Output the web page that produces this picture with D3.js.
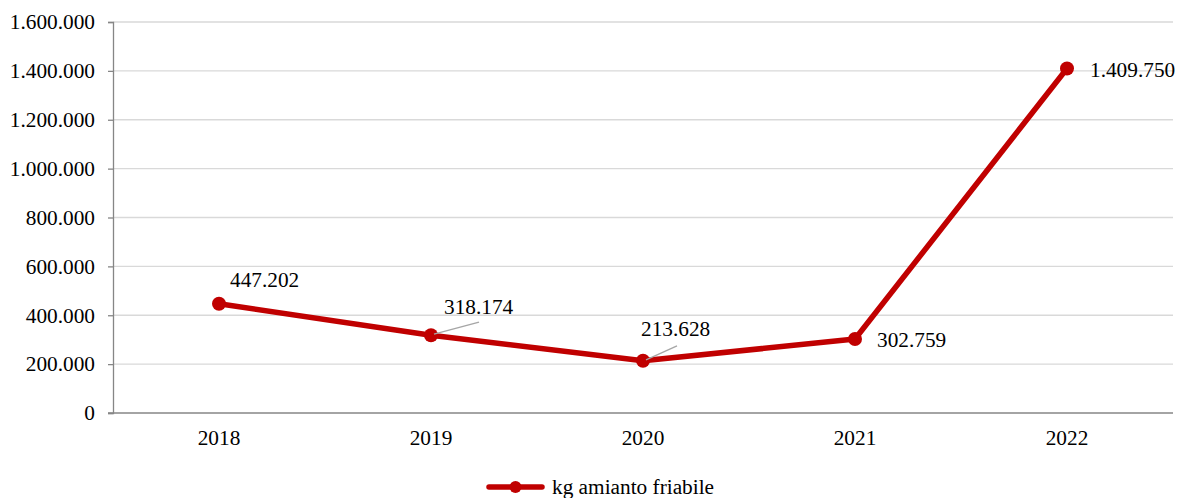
<!DOCTYPE html>
<html><head><meta charset="utf-8">
<script src="https://cdn.jsdelivr.net/npm/d3@7"></script>
<style>body{margin:0;background:#fff}svg{display:block}</style>
</head><body>
<svg id="c" width="1177" height="498"></svg>
<script>
const categories = ["2018","2019","2020","2021","2022"];
const values = [447202, 318174, 213628, 302759, 1409750];
const labels = ["447.202","318.174","213.628","302.759","1.409.750"];
const yTicks = [0,200000,400000,600000,800000,1000000,1200000,1400000,1600000];
const seriesName = "kg amianto friabile";

(function(){
const svg = d3.select("#c");
const mL = 113, mR = 1173, mT = 22, mB = 413;
const FS = "21.3px";
const FF = "Liberation Serif";
const color = "#C00000";
const fmt = v => v.toString().replace(/\B(?=(\d{3})+(?!\d))/g, ".");

const x = d3.scaleBand().domain(categories).range([mL, mR]);
const y = d3.scaleLinear().domain([0,1600000]).range([mB, mT]);

svg.append("g").selectAll("line").data(yTicks.slice(1)).join("line")
  .attr("x1", mL).attr("x2", mR)
  .attr("y1", d => y(d)).attr("y2", d => y(d))
  .attr("stroke", "#d9d9d9").attr("stroke-width", 1.3);

const ya = svg.append("g").attr("transform", `translate(${mL},0)`)
  .call(d3.axisLeft(y).tickValues(yTicks).tickFormat(fmt).tickSize(5).tickPadding(13));
ya.select(".domain").attr("stroke", "#868686").attr("stroke-width", 1.3);
ya.selectAll(".tick line").attr("stroke", "#868686").attr("stroke-width", 1.3);
ya.selectAll("text").style("font-family", FF).style("font-size", FS).attr("fill", "#000");

const xa = svg.append("g").attr("transform", `translate(0,${mB})`)
  .call(d3.axisBottom(x).tickSize(0));
xa.select(".domain").attr("d", `M${mL-5},0H${mR}`).attr("stroke", "#868686").attr("stroke-width", 1.3);
xa.selectAll("text").attr("y", 25).attr("dy", "0.35em").style("font-family", FF).style("font-size", FS).attr("fill", "#000");

const cx = d => x(d) + x.bandwidth()/2;

svg.append("path").datum(values)
  .attr("d", d3.line().x((d,i) => cx(categories[i])).y(d => y(d)))
  .attr("fill", "none").attr("stroke", color).attr("stroke-width", 5.5).attr("stroke-linejoin", "round");

svg.append("g").selectAll("circle").data(values).join("circle")
  .attr("cx", (d,i) => cx(categories[i])).attr("cy", d => y(d)).attr("r", 7).attr("fill", color);

const offs = [
  {dx: 11, dy: -24, leader: false},
  {dx: 13, dy: -29, leader: true, lx: 48, ly: -13},
  {dx: -2, dy: -32, leader: true, lx: 34, ly: -15},
  {dx: 22, dy: 1, leader: false},
  {dx: 23, dy: 1, leader: false}
];
const lab = svg.append("g");
values.forEach((v,i) => {
  const px = cx(categories[i]), py = y(v), o = offs[i];
  if (o.leader) {
    lab.append("line").attr("x1", px+3).attr("y1", py-1).attr("x2", px+o.lx).attr("y2", py+o.ly)
      .attr("stroke", "#a6a6a6").attr("stroke-width", 1.3);
  }
  lab.append("text").attr("x", px+o.dx).attr("y", py+o.dy).attr("dy", "0.35em")
    .attr("text-anchor", "start").style("font-family", FF).style("font-size", FS).attr("fill", "#000")
    .text(labels[i]);
});

const lg = svg.append("g");
lg.append("line").attr("x1", 489).attr("x2", 542).attr("y1", 487).attr("y2", 487)
  .attr("stroke", color).attr("stroke-width", 5.5).attr("stroke-linecap", "round");
lg.append("circle").attr("cx", 515.5).attr("cy", 487).attr("r", 6).attr("fill", color);
lg.append("text").attr("x", 552).attr("y", 487).attr("dy", "0.35em")
  .style("font-family", FF).style("font-size", FS).attr("fill", "#000").text(seriesName);
})();
</script>
</body></html>
